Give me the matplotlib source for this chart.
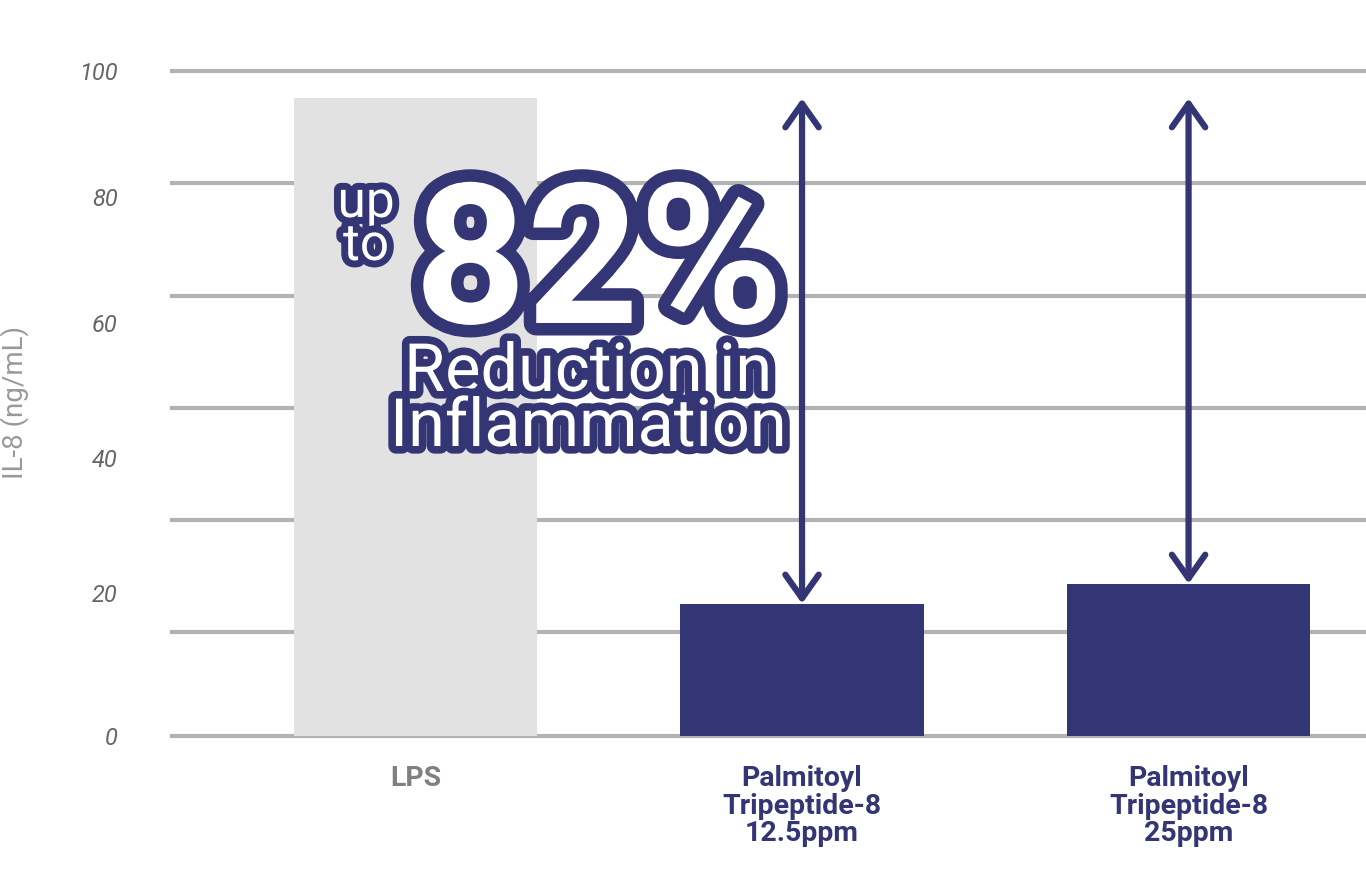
import matplotlib
matplotlib.use('Agg')
import matplotlib.pyplot as plt
import matplotlib.patheffects as pe
from matplotlib import font_manager

# data
categories = ['LPS', 'Palmitoyl\nTripeptide-8\n12.5ppm', 'Palmitoyl\nTripeptide-8\n25ppm']
il8 = [95.9, 19.9, 22.9]
bar_colors = ['#e2e2e2', '#333575', '#333575']
label_colors = ['#808080', '#333575', '#333575']
tick_pos = [0, 21.5, 41.8, 62.1, 81.0, 100]
tick_labels = ['0', '20', '40', '60', '80', '100']
grid_vals = [0, 15.6, 32.5, 49.3, 66.2, 83.2, 100]

navy = '#333575'
names = {f.name for f in font_manager.fontManager.ttflist}
def pick(*cands):
    return next((c for c in cands if c in names), 'DejaVu Sans')
f_main = pick('Roboto', 'Liberation Sans')

fig = plt.figure(figsize=(13.66, 8.94), dpi=100)
ax = fig.add_axes([0.1259, 0.1767, 0.8741, 0.7439])

for g in grid_vals:
    ax.axhline(g, color='#b3b3b3', lw=3, zorder=0, clip_on=False)

x = list(range(len(categories)))
ax.bar(x, il8, width=0.629, color=bar_colors, zorder=2)

# arrows from LPS level down to each treatment bar
for i in x[1:]:
    ax.annotate('', xy=(i, il8[0]), xytext=(i, il8[i]),
                arrowprops=dict(arrowstyle='<->,head_length=0.85,head_width=0.6',
                                mutation_scale=20, lw=4.5, color=navy,
                                shrinkA=0, shrinkB=0, capstyle='round',
                                joinstyle='round'), zorder=3)

ax.set_xlim(-0.63, 2.459)
ax.set_ylim(0, 100)
for s in ax.spines.values():
    s.set_visible(False)

ax.set_yticks(tick_pos)
ax.set_yticklabels(tick_labels, fontfamily=f_main, fontstyle='italic',
                   fontsize=17, color='#666666')
ax.tick_params(axis='y', length=0, pad=39)
ax.set_ylabel('IL-8 (ng/mL)', fontfamily=f_main, fontsize=20,
              color='#999999', va='center')
ax.yaxis.set_label_coords(-0.132, 0.502)

ax.set_xticks(x)
ax.set_xticklabels(categories, fontfamily=f_main, fontweight='bold',
                   fontsize=20.5, linespacing=1.03)
for lbl, c in zip(ax.get_xticklabels(), label_colors):
    lbl.set_color(c)
ax.tick_params(axis='x', length=0, pad=21)

# callout text, placed in picture pixels
def callout(xp, yp, s, size, weight, lw):
    fig.text(xp / 1366, 1 - yp / 894, s, fontsize=size, fontweight=weight,
             fontfamily=f_main, color='white', ha='center', va='baseline',
             zorder=10,
             path_effects=[pe.withStroke(linewidth=lw, foreground=navy)])

callout(599, 323, '82%', 141, 'bold', 18)
callout(366, 217, 'up', 37, 'normal', 10)
callout(366, 260, 'to', 37, 'normal', 10)
callout(588, 391, 'Reduction in', 48, 'normal', 11)
callout(588, 446, 'Inflammation', 48, 'normal', 11)

fig.savefig('out.png', dpi=100, facecolor='white')
